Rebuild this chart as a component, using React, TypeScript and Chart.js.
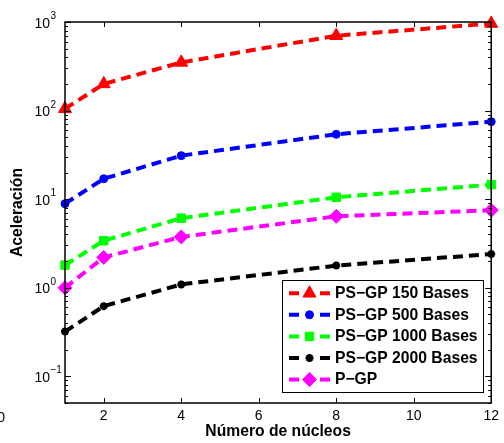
import React, { useEffect, useRef } from "react";
import { Chart, registerables } from "chart.js";
import { drawPoint } from "chart.js/helpers";

Chart.register(...registerables);

// Number of cores on the x axis
const cores = [1, 2, 4, 8, 12];

// Speed-up per configuration
const ps150 = [105, 200, 350, 700, 960];
const ps500 = [8.9, 17, 31, 54, 75];
const ps1000 = [1.8, 3.4, 6.1, 10.5, 14.6];
const ps2000 = [0.32, 0.62, 1.09, 1.78, 2.4];
const pgp = [1.0, 2.2, 3.75, 6.4, 7.5];

const seriesNames = [
  "PS\u2212GP 150 Bases",
  "PS\u2212GP 500 Bases",
  "PS\u2212GP 1000 Bases",
  "PS\u2212GP 2000 Bases",
  "P\u2212GP",
];

const xTickValues = [2, 4, 6, 8, 10, 12];
const yDecades = [0.1, 1, 10, 100, 1000];
const yExponents = ["\u22121", "0", "1", "2", "3"];

const FONT = "'Liberation Sans', Arial, Helvetica, sans-serif";

type Style = {
  color: string;
  pointStyle: string;
  radius: number;
  pointBorderWidth: number;
};

const styles: Style[] = [
  { color: "#ff0000", pointStyle: "triangle", radius: 7.5, pointBorderWidth: 1 },
  { color: "#0000ff", pointStyle: "circle", radius: 4, pointBorderWidth: 1 },
  { color: "#00ff00", pointStyle: "rect", radius: 6, pointBorderWidth: 1 },
  { color: "#000000", pointStyle: "star", radius: 4, pointBorderWidth: 2.5 },
  { color: "#ff00ff", pointStyle: "rectRot", radius: 7, pointBorderWidth: 1 },
];

const seriesValues = [ps150, ps500, ps1000, ps2000, pgp];

// Box, inward ticks, superscripted decade labels and the in-plot legend
const framePlugin = {
  id: "frame",
  afterDraw(chart: any) {
    const { ctx, chartArea: a, scales } = chart;
    const xs = scales.x;
    const ys = scales.y;
    ctx.save();
    ctx.strokeStyle = "#000";
    ctx.lineWidth = 1;

    // x ticks on bottom and top edges
    ctx.beginPath();
    for (const v of xTickValues) {
      const px = Math.round(xs.getPixelForValue(v)) + 0.5;
      ctx.moveTo(px, a.bottom);
      ctx.lineTo(px, a.bottom - 5);
      ctx.moveTo(px, a.top);
      ctx.lineTo(px, a.top + 5);
    }
    // y ticks (log minor + major) on both sides
    for (let e = -2; e <= 3; e++) {
      for (let k = 1; k <= 9; k++) {
        const v = k * Math.pow(10, e);
        if (v < ys.min - 1e-9 || v > ys.max + 1e-9) continue;
        const py = Math.round(ys.getPixelForValue(v)) + 0.5;
        const len = k === 1 ? 6 : 3;
        ctx.moveTo(a.left, py);
        ctx.lineTo(a.left + len, py);
        ctx.moveTo(a.right, py);
        ctx.lineTo(a.right - len, py);
      }
    }
    ctx.stroke();

    ctx.lineWidth = 1.5;
    ctx.strokeRect(a.left, a.top, a.right - a.left, a.bottom - a.top);

    // decade labels: "10" with raised exponent
    ctx.fillStyle = "#000";
    yDecades.forEach((v, i) => {
      const py = ys.getPixelForValue(v);
      ctx.font = `14px ${FONT}`;
      ctx.textAlign = "right";
      ctx.textBaseline = "alphabetic";
      ctx.fillText("10", 50, py + 5.5);
      ctx.font = `10px ${FONT}`;
      ctx.textAlign = "left";
      ctx.fillText(yExponents[i], 50.5, py - 3);
    });

    // stray tick label at the far left edge
    ctx.font = `14px ${FONT}`;
    ctx.textAlign = "right";
    ctx.textBaseline = "middle";
    ctx.fillText("0", 5, 418);

    // legend
    const lx0 = 282, lx1 = 483, ly0 = 280, ly1 = 392;
    ctx.fillStyle = "#fff";
    ctx.fillRect(lx0, ly0, lx1 - lx0, ly1 - ly0);
    ctx.strokeStyle = "#000";
    ctx.lineWidth = 1;
    ctx.strokeRect(lx0 + 0.5, ly0 + 0.5, lx1 - lx0, ly1 - ly0);
    const rowY = [293.3, 314.8, 336.4, 358, 379.6];
    seriesNames.forEach((name, i) => {
      const s = styles[i];
      const y = rowY[i];
      ctx.strokeStyle = s.color;
      ctx.lineWidth = 4;
      ctx.beginPath();
      ctx.moveTo(289, y);
      ctx.lineTo(299, y);
      ctx.moveTo(320, y);
      ctx.lineTo(330, y);
      ctx.stroke();
      ctx.fillStyle = s.color;
      ctx.strokeStyle = s.color;
      ctx.lineWidth = s.pointBorderWidth;
      drawPoint(ctx, { pointStyle: s.pointStyle as any, radius: s.radius, borderWidth: s.pointBorderWidth, rotation: 0 } as any, 309.5, y);
      ctx.fillStyle = "#000";
      ctx.font = `bold 15.7px ${FONT}`;
      ctx.textAlign = "left";
      ctx.textBaseline = "middle";
      ctx.fillText(name, 335, y + 0.5);
    });

    ctx.restore();
  },
};

export default function App() {
  const canvasRef = useRef<HTMLCanvasElement | null>(null);

  useEffect(() => {
    const canvas = canvasRef.current;
    if (!canvas) return;

    const datasets = seriesValues.map((vals, i) => {
      const s = styles[i];
      return {
        label: seriesNames[i],
        data: cores.map((c, j) => ({ x: c, y: vals[j] })),
        borderColor: s.color,
        backgroundColor: s.color,
        borderWidth: 4,
        borderDash: [10, 6],
        pointStyle: s.pointStyle,
        pointRadius: s.radius,
        pointBorderWidth: s.pointBorderWidth,
        pointBackgroundColor: s.color,
        pointBorderColor: s.color,
        tension: 0,
        clip: false as any,
      };
    });

    const chart = new Chart(canvas, {
      type: "line",
      data: { datasets: datasets as any },
      options: {
        responsive: false,
        animation: false,
        events: [],
        layout: { padding: { top: 22, right: 11, bottom: 2, left: 0 } },
        plugins: {
          legend: { display: false },
          tooltip: { enabled: false },
        },
        scales: {
          x: {
            type: "linear",
            min: 1,
            max: 12,
            grid: { display: false, drawTicks: false },
            border: { display: false },
            afterBuildTicks: (scale: any) => {
              scale.ticks = xTickValues.map((v) => ({ value: v }));
            },
            afterFit: (scale: any) => {
              scale.height = 38;
            },
            ticks: {
              color: "#000",
              font: { family: FONT, size: 14 },
              padding: 5,
              maxRotation: 0,
              autoSkip: false,
            },
            title: {
              display: true,
              text: "Número de núcleos",
              color: "#000",
              font: { family: FONT, size: 15.7, weight: "bold" },
              padding: { top: 0, bottom: 0 },
            },
          },
          y: {
            type: "logarithmic",
            min: 0.05,
            max: 1000,
            grid: { display: false, drawTicks: false },
            border: { display: false },
            ticks: { display: false },
            afterFit: (scale: any) => {
              scale.width = 65;
            },
            title: {
              display: true,
              text: "Aceleración",
              color: "#000",
              font: { family: FONT, size: 15.7, weight: "bold" },
              padding: { top: 8, bottom: 0 },
            },
          },
        },
      },
      plugins: [framePlugin],
    });

    return () => chart.destroy();
  }, []);

  return (
    <div style={{ position: "fixed", left: 0, top: 0, width: 504, height: 443, background: "#fff" }}>
      <canvas ref={canvasRef} width={504} height={443} style={{ display: "block" }} />
    </div>
  );
}
